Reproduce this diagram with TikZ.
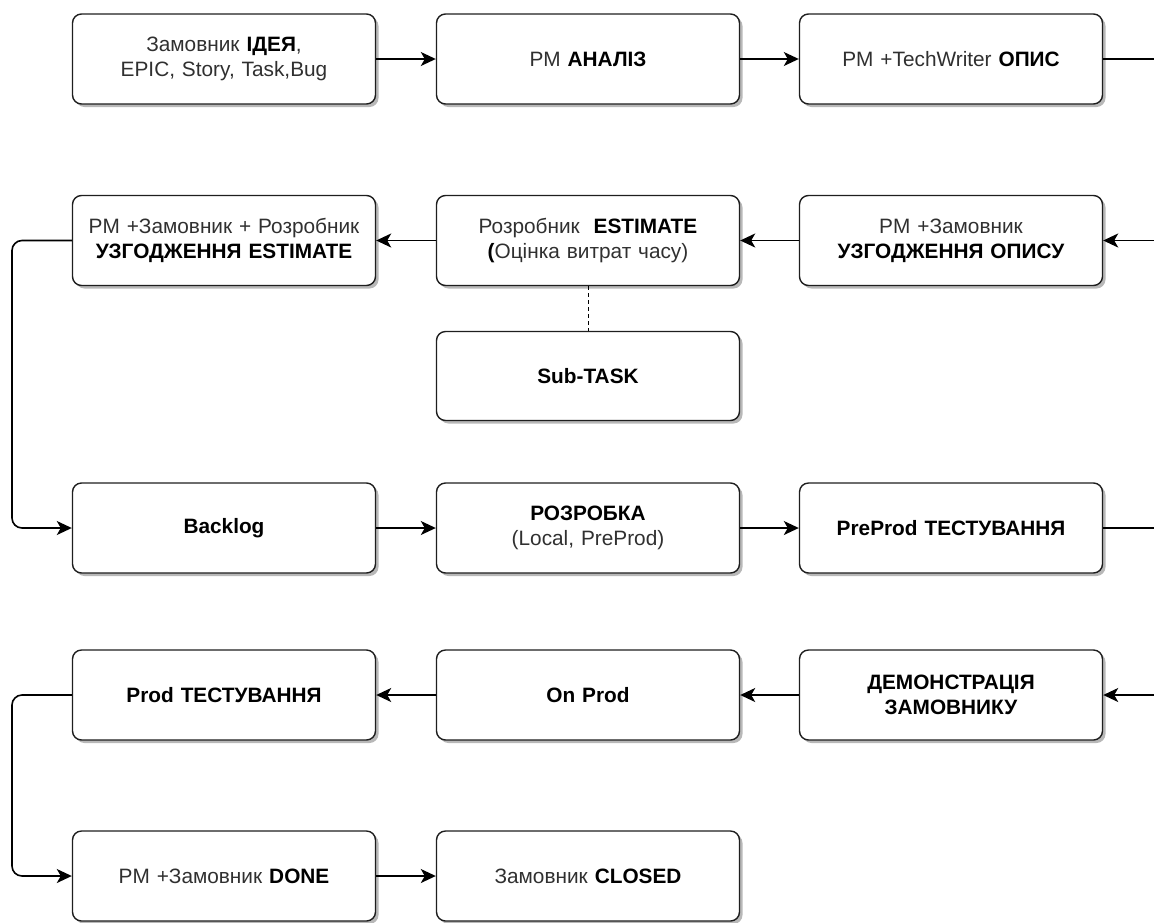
\documentclass[tikz,border=0pt]{standalone}
\usepackage{fontspec}
\setmainfont{Liberation Sans}
\usetikzlibrary{arrows.meta,shadows}

\definecolor{txt}{HTML}{303030}
\definecolor{edge}{HTML}{1E1E1E}

\tikzset{
  x=1pt, y=-1pt,
  stage/.style={draw=edge, line width=1.4pt, fill=white, rounded corners=9pt,
    minimum width=303pt, minimum height=90pt, text width=296pt, align=center,
    inner sep=0pt, text=txt,
    font=\fontsize{20.8}{25}\selectfont,
    drop shadow={shadow xshift=3pt, shadow yshift=-3pt, fill=black, opacity=0.28}},
  tip/.style={-{Stealth[length=15pt,width=14pt,inset=4pt]}},
  flow/.style={draw=black, line width=1.6pt, tip},
  plain/.style={draw=black, line width=1.6pt},
  loop/.style={draw=black, line width=1.6pt, rounded corners=10pt, tip},
  link/.style={draw=black, line width=1pt, dashed, dash pattern=on 4pt off 3pt}
}
\newcommand{\bb}[1]{\textbf{\color{black}#1}}

\begin{document}
\begin{tikzpicture}
\useasboundingbox (0,0) rectangle (1154,922);

% row 1
\node[stage] (idea)  at (224,59)  {Замовник \bb{ІДЕЯ},\\EPIC, Story, Task,Bug};
\node[stage] (anal)  at (588,59)  {PM \bb{АНАЛІЗ}};
\node[stage] (opys)  at (951,59)  {PM +TechWriter \bb{ОПИС}};

% row 2
\node[stage] (agree) at (951,240.5) {PM +Замовник\\\bb{УЗГОДЖЕННЯ ОПИСУ}};
\node[stage] (est)   at (588,240.5) {Розробник\ \ \bb{ESTIMATE}\\\bb{(}Оцінка витрат часу)};
\node[stage] (agest) at (224,240.5) {PM +Замовник + Розробник\\\bb{УЗГОДЖЕННЯ ESTIMATE}};
\node[stage, minimum height=89pt] (sub) at (588,376) {\bb{Sub-TASK}};

% row 3
\node[stage] (back)  at (224,528) {\bb{Backlog}};
\node[stage] (dev)   at (588,528) {\bb{РОЗРОБКА}\\(Local, PreProd)};
\node[stage] (pptest) at (951,528) {\bb{PreProd ТЕСТУВАННЯ}};

% row 4
\node[stage] (demo)  at (951,695) {\bb{ДЕМОНСТРАЦІЯ}\\\bb{ЗАМОВНИКУ}};
\node[stage] (onprod) at (588,695) {\bb{On Prod}};
\node[stage] (ptest) at (224,695) {\bb{Prod ТЕСТУВАННЯ}};

% row 5
\node[stage] (done)  at (224,876) {PM +Замовник \bb{DONE}};
\node[stage] (closed) at (588,876) {Замовник \bb{CLOSED}};

% connectors leaving / entering at the right margin
\coordinate (o1) at (1154,59);
\coordinate (i2) at (1154,240.5);
\coordinate (o3) at (1154,528);
\coordinate (i4) at (1154,695);

\draw[flow] (idea) -- (anal);
\draw[flow] (anal) -- (opys);
\draw[plain] (opys.east) -- (o1);

\draw[flow] (i2) -- (agree.east);
\draw[flow] (agree) -- (est);
\draw[flow] (est) -- (agest);
\draw[link] (est.south) -- (sub.north);
\draw[loop] (agest.west) -| (12,400) |- (back.west);

\draw[flow] (back) -- (dev);
\draw[flow] (dev) -- (pptest);
\draw[plain] (pptest.east) -- (o3);

\draw[flow] (i4) -- (demo.east);
\draw[flow] (demo) -- (onprod);
\draw[flow] (onprod) -- (ptest);
\draw[loop] (ptest.west) -| (12,780) |- (done.west);

\draw[flow] (done) -- (closed);
\end{tikzpicture}
\end{document}
